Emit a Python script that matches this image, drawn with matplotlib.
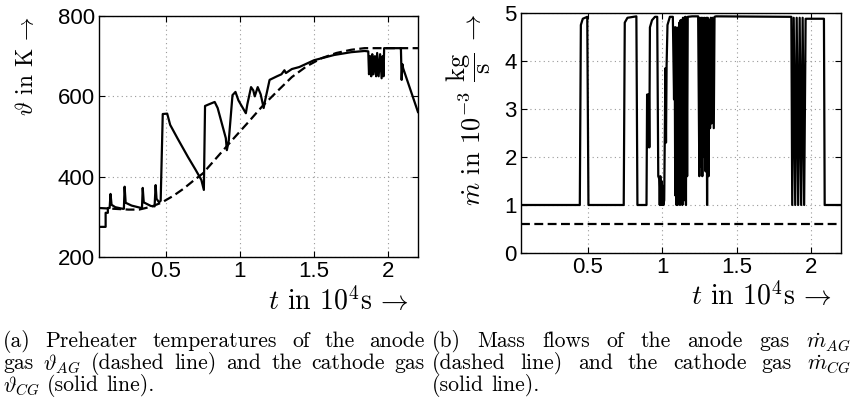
import numpy as np
import matplotlib
matplotlib.use("Agg")
import matplotlib.pyplot as plt

plt.rcParams['font.family'] = ['Liberation Sans', 'DejaVu Sans']
plt.rcParams['mathtext.fontset'] = 'cm'

# (a) preheater temperatures, t in 1e4 s, temperature in K
t_ag = [0.05, 0.15, 0.25, 0.32, 0.40, 0.47, 0.55, 0.62, 0.68, 0.75, 0.85, 0.95,
        1.05, 1.15, 1.25, 1.35, 1.45, 1.55, 1.65, 1.75, 1.84, 2.2]
T_ag = [322, 320, 318, 318, 325, 335, 352, 370, 388, 408, 450, 492,
        533, 575, 612, 648, 675, 695, 708, 716, 720, 720]

t_cg = [0.05, 0.095, 0.095, 0.11, 0.11, 0.122, 0.128, 0.135, 0.16, 0.21, 0.218,
        0.223, 0.23, 0.27, 0.335, 0.34, 0.345, 0.352, 0.40, 0.425, 0.432, 0.438,
        0.455, 0.466, 0.48, 0.51, 0.53, 0.58, 0.65, 0.70, 0.74, 0.757, 0.765,
        0.79, 0.83, 0.85, 0.88, 0.905, 0.912, 0.925, 0.95, 0.97, 0.99, 1.04,
        1.05, 1.075, 1.09, 1.10, 1.12, 1.14, 1.16, 1.17, 1.20, 1.25, 1.28, 1.30,
        1.31, 1.35, 1.40, 1.50, 1.635, 1.75, 1.84, 1.865, 1.87, 1.878, 1.885,
        1.892, 1.90, 1.91, 1.918, 1.925, 1.935, 1.945, 1.955, 1.962, 1.968,
        1.972, 2.085, 2.09, 2.095, 2.10, 2.2]
T_cg = [275, 275, 310, 310, 322, 322, 357, 330, 324, 320, 320,
        375, 335, 328, 322, 322, 372, 336, 327, 326, 379, 345,
        336, 340, 556, 557, 529, 495, 449, 418, 392, 367, 576,
        580, 586, 571, 530, 496, 466, 490, 603, 611, 590, 558,
        580, 623, 615, 600, 623, 605, 571, 590, 641, 650, 655, 665,
        658, 668, 673, 690, 703, 710, 713, 712, 655, 700, 650,
        705, 655, 700, 650, 708, 650, 705, 645, 700, 650,
        720, 720, 641, 680, 670, 561]

# (b) mass flows in 1e-3 kg/s
t_mag = [0.05, 2.2]
m_ag = [0.6, 0.6]

t_mcg = [0.05, 0.445, 0.452, 0.465, 0.495, 0.503, 0.74, 0.747, 0.765, 0.825, 0.832,
         0.893, 0.897, 0.900, 0.903, 0.906, 0.909, 0.912, 0.916, 0.93, 0.95, 0.965,
         0.972, 0.978, 0.982, 0.986, 0.99, 0.994, 0.998, 1.002, 1.006, 1.012,
         1.02, 1.024, 1.028, 1.034, 1.05, 1.07, 1.078, 1.082, 1.086, 1.09, 1.094,
         1.098, 1.102, 1.106, 1.11, 1.114, 1.118, 1.122, 1.126, 1.13, 1.134,
         1.138, 1.142, 1.146, 1.15, 1.154, 1.158, 1.162, 1.166, 1.17, 1.20,
         1.24, 1.248, 1.252, 1.258, 1.262, 1.268, 1.272, 1.278, 1.284, 1.29,
         1.296, 1.30, 1.304, 1.31, 1.315, 1.32, 1.325, 1.33, 1.335, 1.345,
         1.35, 1.36, 1.866, 1.872, 1.882, 1.892, 1.902, 1.912, 1.922, 1.932,
         1.942, 1.952, 1.962, 1.97, 2.085, 2.09, 2.2]
m_cg = [1.0, 1.0, 4.75, 4.88, 4.92, 1.0, 1.0, 4.8, 4.9, 4.93, 1.0,
        1.0, 3.3, 2.2, 3.3, 2.3, 3.3, 2.2, 4.7, 4.85, 4.92, 4.92,
        1.6, 1.55, 1.0, 1.6, 1.0, 1.5, 1.0, 1.4, 1.0, 1.1,
        3.85, 2.3, 3.9, 4.75, 4.92, 4.92, 3.2, 4.7, 1.2, 4.7, 1.0,
        4.6, 1.0, 4.7, 1.1, 4.8, 1.0, 4.85, 1.2, 4.85, 1.0,
        4.9, 1.3, 4.9, 1.1, 4.92, 1.0, 4.9, 1.6, 4.92, 4.93,
        4.93, 1.6, 4.9, 1.8, 4.9, 1.6, 4.9, 2.0, 4.9, 1.7,
        4.9, 1.0, 4.9, 1.6, 4.85, 2.6, 4.9, 2.7, 4.9, 2.6,
        4.92, 4.93, 4.92, 1.0, 4.9, 1.0, 4.9, 1.0, 4.9, 1.0,
        4.9, 1.0, 4.88, 4.88, 4.88, 1.0, 1.0]

xticks = [0.5, 1, 1.5, 2]
xticklabels = ['0.5', '1', '1.5', '2']

cap_a = ['(a) Preheater temperatures of the anode',
         r'gas $\vartheta_{AG}$ (dashed line) and the cathode gas',
         r'$\vartheta_{CG}$ (solid line).']
cap_b = [r'(b) Mass flows of the anode gas $\dot{m}_{AG}$',
         r'(dashed line) and the cathode gas $\dot{m}_{CG}$',
         '(solid line).']

W, H = 853, 407
fig = plt.figure(figsize=(W / 100, H / 100), dpi=100)
ax1 = fig.add_axes([0.116, 0.3686, 0.374, 0.592])
ax2 = fig.add_axes([0.6108, 0.3784, 0.3752, 0.5897])

dash = (0, (4, 2))
ax1.plot(t_ag, T_ag, color='k', lw=1.6, linestyle=dash)
ax1.plot(t_cg, T_cg, color='k', lw=1.6)
ax2.plot(t_mag, m_ag, color='k', lw=1.6, linestyle=dash)
ax2.plot(t_mcg, m_cg, color='k', lw=1.6)

ax1.set_ylim(200, 800)
ax1.set_yticks([200, 400, 600, 800])
ax2.set_ylim(0, 5)
ax2.set_yticks([0, 1, 2, 3, 4, 5])

for ax in (ax1, ax2):
    ax.set_xlim(0.05, 2.2)
    ax.set_xticks(xticks)
    ax.set_xticklabels(xticklabels)
    ax.grid(True, linestyle=(0, (1, 3)), color='0.6', lw=0.8)
    ax.tick_params(direction='in', top=True, right=True, length=4,
                   labelsize=16, pad=3)
    for s in ax.spines.values():
        s.set_linewidth(1.0)
    ax.set_xlabel(r'$t$ in 10$^4$s$\,\rightarrow$', family='cmr10',
                  fontsize=20, labelpad=4)
    ax.xaxis.set_label_coords(0.97, -0.12)
    ax.xaxis.label.set_horizontalalignment('right')

ax1.set_ylabel(r'$\vartheta$ in K$\,\rightarrow$', family='cmr10',
               fontsize=17, loc='top', labelpad=14)
ax2.set_ylabel(r'$\dot{m}$ in 10$^{-3}$ $\dfrac{\mathrm{kg}}{\mathrm{s}}$$\;\rightarrow$',
               family='cmr10', fontsize=19, loc='top', labelpad=8)

# justified caption lines
renderer = fig.canvas.get_renderer()
cap_size = 15.6


def put_line(x0, x1, y, line, justify):
    words = line.split(' ')
    texts = [fig.text(0, 1 - y / H, w, family='cmr10', fontsize=cap_size,
                      va='baseline', ha='left') for w in words]
    widths = [t.get_window_extent(renderer).width for t in texts]
    space = 0.33 * cap_size * 100 / 72
    if justify and len(words) > 1:
        space = max((x1 - x0 - sum(widths)) / (len(words) - 1), 3)
    x = x0
    for t, w in zip(texts, widths):
        t.set_x(x / W)
        x += w + space


for i, line in enumerate(cap_a):
    put_line(3, 425, 347 + 22 * i, line, i < 2)
for i, line in enumerate(cap_b):
    put_line(432, 851, 347 + 22 * i, line, i < 2)

fig.savefig('out.png', dpi=100)
